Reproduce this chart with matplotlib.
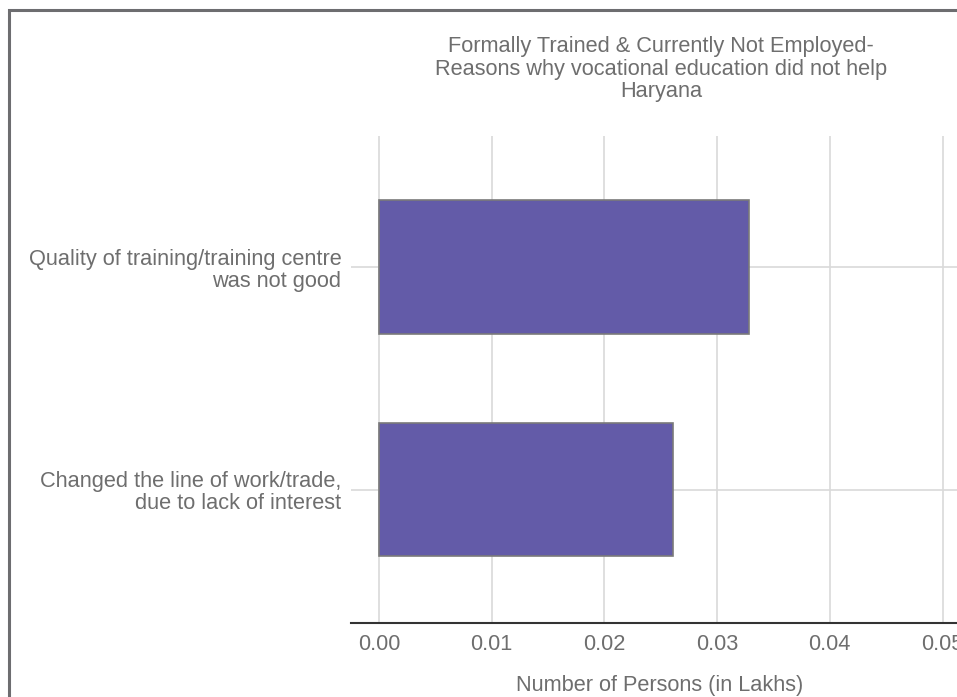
import matplotlib.pyplot as plt
from matplotlib.patches import Rectangle

plt.rcParams['font.family'] = ['Liberation Sans', 'DejaVu Sans']

reasons = ['Changed the line of work/trade,\ndue to lack of interest',
           'Quality of training/training centre\nwas not good']
persons = [0.0261, 0.0328]
xticks = [0.00, 0.01, 0.02, 0.03, 0.04, 0.05]

W, H = 957, 697
text_col = '#6e6e6e'
fs = 15.7

fig = plt.figure(figsize=(W / 100, H / 100), dpi=100)

# frame of the original chart box (right/bottom edges fall outside the crop)
fig.patches.append(Rectangle((9 / W, 1 - 1.2), 1.2, 1.2 - 10 / H, transform=fig.transFigure,
                             fill=False, edgecolor='#6d6d70', linewidth=2.2))

# axes run past the right edge, like the cropped screenshot
left, right, top, bottom = 351, 1000, 136, 623
ax = fig.add_axes([left / W, 1 - bottom / H, (right - left) / W, (bottom - top) / H])

ax.barh(range(len(reasons)), persons, height=0.6, color='#635ba8',
        edgecolor='#7a7a7a', linewidth=1.2, zorder=3)

px = 11270.0  # pixels per unit
ax.set_xticks(xticks)
ax.set_xticklabels(['%.2f' % t for t in xticks])
ax.set_xlim(-(379 - left) / px, (right - 379) / px)
ax.set_ylim(-0.6, 1.59)
ax.set_yticks(range(len(reasons)))
ax.set_yticklabels(reasons, ha='right', linespacing=1.05)

ax.grid(True, color='#d9d9d9', linewidth=1.2, zorder=0)
for s in ['top', 'right', 'left']:
    ax.spines[s].set_visible(False)
ax.spines['bottom'].set_color('#333333')
ax.spines['bottom'].set_linewidth(1.5)
ax.tick_params(length=0, labelsize=fs, labelcolor=text_col)
ax.tick_params(axis='x', pad=8)
ax.tick_params(axis='y', pad=7)

ax.set_xlabel('Number of Persons (in Lakhs)', fontsize=fs, color=text_col)
ax.xaxis.set_label_coords((660 - left) / (right - left), -(686 - bottom) / (bottom - top))
ax.xaxis.label.set_va('center')

fig.text(661 / W, 1 - 69 / H,
         'Formally Trained & Currently Not Employed-\nReasons why vocational education did not help\nHaryana',
         ha='center', va='center', fontsize=fs, color=text_col, linespacing=1.12)

fig.savefig('out.png', dpi=100)
